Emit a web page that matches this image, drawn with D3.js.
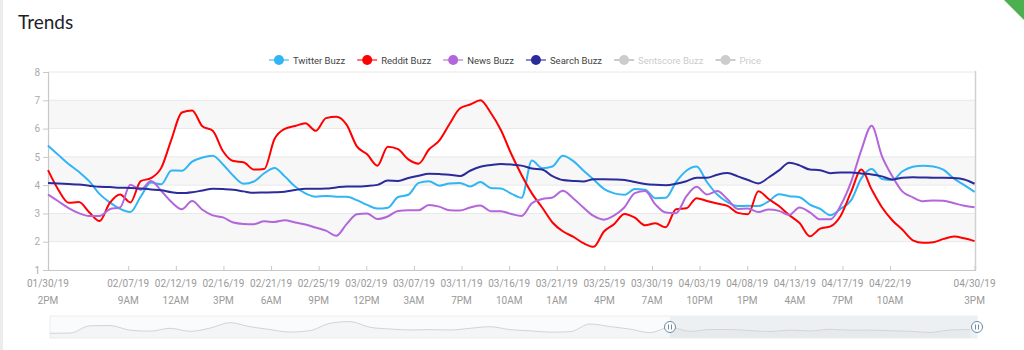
<!DOCTYPE html>
<html>
<head>
<meta charset="utf-8">
<script src="https://cdn.jsdelivr.net/npm/d3@7"></script>
<style>
  html, body { margin: 0; padding: 0; background: #fff; }
  svg { display: block; font-family: Roboto, "Noto Sans", sans-serif; }
</style>
</head>
<body>
<svg id="chart"></svg>
<script>
const width = 1024;
const height = 350;

// daily samples, first one at 01/30/19 2PM
const startTime = Date.UTC(2019, 0, 30, 14);
const endTime = Date.UTC(2019, 3, 30, 15);

const twitterBuzz = [5.40, 5.07, 4.75, 4.47, 4.14, 3.69, 3.39, 3.16, 3.05, 3.59,
  4.09, 4.03, 4.52, 4.51, 4.83, 4.98, 5.04, 4.73, 4.33, 4.05,
  4.13, 4.42, 4.61, 4.31, 3.95, 3.71, 3.59, 3.62, 3.59, 3.59,
  3.47, 3.30, 3.17, 3.20, 3.58, 3.66, 4.08, 4.14, 3.98, 4.06,
  4.08, 3.95, 4.11, 3.90, 3.88, 3.70, 3.55, 4.87, 4.60, 4.66,
  5.04, 4.86, 4.52, 4.20, 3.87, 3.71, 3.66, 3.86, 3.84, 3.54,
  3.55, 4.11, 4.51, 4.66, 4.11, 3.67, 3.40, 3.26, 3.27, 3.26,
  3.43, 3.68, 3.61, 3.57, 3.31, 3.16, 2.94, 3.17, 3.46, 4.24,
  4.57, 4.22, 4.18, 4.49, 4.65, 4.69, 4.66, 4.54, 4.23, 4.00, 3.76];

const redditBuzz = [4.53, 3.84, 3.38, 3.40, 3.04, 2.73, 3.37, 3.67, 3.39, 4.14,
  4.25, 4.61, 5.63, 6.57, 6.64, 6.08, 5.92, 5.20, 4.85, 4.81,
  4.55, 4.57, 5.63, 5.99, 6.09, 6.19, 5.92, 6.37, 6.42, 6.14,
  5.37, 5.09, 4.69, 5.36, 5.27, 4.91, 4.76, 5.26, 5.57, 6.16,
  6.71, 6.85, 7.00, 6.56, 5.94, 5.10, 4.36, 3.71, 3.21, 2.68,
  2.37, 2.18, 1.95, 1.82, 2.36, 2.63, 2.98, 2.85, 2.58, 2.65,
  2.51, 3.15, 3.18, 3.54, 3.44, 3.35, 3.27, 3.02, 2.97, 3.78,
  3.51, 3.26, 2.94, 2.66, 2.19, 2.46, 2.54, 2.92, 3.75, 4.55,
  3.85, 3.22, 2.76, 2.42, 2.05, 1.96, 1.98, 2.10, 2.18, 2.12, 2.02];

const newsBuzz = [3.67, 3.43, 3.19, 3.01, 2.91, 2.91, 3.15, 3.21, 4.01, 3.84,
  4.15, 3.80, 3.40, 3.15, 3.44, 3.13, 2.93, 2.86, 2.68, 2.63,
  2.62, 2.72, 2.70, 2.76, 2.68, 2.61, 2.50, 2.39, 2.21, 2.62,
  2.97, 3.00, 2.80, 2.89, 3.09, 3.11, 3.11, 3.30, 3.24, 3.11,
  3.10, 3.21, 3.28, 3.08, 3.08, 2.98, 2.91, 3.36, 3.51, 3.56,
  3.80, 3.54, 3.21, 2.91, 2.78, 2.93, 3.22, 3.72, 3.79, 3.32,
  3.03, 3.01, 3.60, 3.94, 3.67, 3.79, 3.50, 3.16, 3.17, 3.05,
  3.14, 3.09, 2.95, 3.21, 3.04, 2.79, 2.79, 3.29, 4.11, 5.24,
  6.10, 5.03, 4.32, 3.77, 3.57, 3.43, 3.46, 3.45, 3.36, 3.27, 3.22];

const searchBuzz = [4.08, 4.06, 4.04, 4.02, 3.98, 3.94, 3.93, 3.91, 3.90, 3.88,
  3.85, 3.82, 3.75, 3.72, 3.75, 3.81, 3.87, 3.86, 3.84, 3.78,
  3.73, 3.74, 3.75, 3.77, 3.83, 3.87, 3.87, 3.88, 3.92, 3.95,
  3.95, 3.97, 4.01, 4.16, 4.15, 4.25, 4.33, 4.40, 4.39, 4.37,
  4.32, 4.51, 4.65, 4.71, 4.75, 4.73, 4.69, 4.59, 4.55, 4.32,
  4.18, 4.15, 4.13, 4.21, 4.21, 4.20, 4.18, 4.11, 4.04, 4.01,
  4.00, 4.05, 4.14, 4.26, 4.26, 4.37, 4.43, 4.31, 4.18, 4.06,
  4.27, 4.52, 4.79, 4.70, 4.55, 4.53, 4.42, 4.45, 4.45, 4.41,
  4.38, 4.31, 4.20, 4.26, 4.28, 4.27, 4.26, 4.26, 4.25, 4.20, 4.05];

// navigator line (longer history, evenly spaced)
const navigatorValues = [4.7, 4.9, 12.2, 12.5, 7.8, 6.8, 9.7, 6.7, 9.9, 15.3,
  11.3, 8.5, 5.9, 7.3, 14.7, 16.4, 10.7, 9.0, 8.0, 8.4,
  8.0, 9.7, 11.3, 8.4, 7.2, 5.9, 6.3, 14.0, 11.4, 8.9,
  5.3, 10.7, 6.6, 8.5, 8.5, 7.4, 6.5, 7.9, 7.0, 8.7,
  7.8, 7.9, 7.3, 6.7, 5.6, 8.0, 8.5];

const yTicks = [1, 2, 3, 4, 5, 6, 7, 8];

const xTicks = [
  ["2019-01-30T14:00Z", "01/30/19", "2PM"],
  ["2019-02-07T09:00Z", "02/07/19", "9AM"],
  ["2019-02-12T00:00Z", "02/12/19", "12AM"],
  ["2019-02-16T15:00Z", "02/16/19", "3PM"],
  ["2019-02-21T06:00Z", "02/21/19", "6AM"],
  ["2019-02-25T21:00Z", "02/25/19", "9PM"],
  ["2019-03-02T12:00Z", "03/02/19", "12PM"],
  ["2019-03-07T03:00Z", "03/07/19", "3AM"],
  ["2019-03-11T18:00Z", "03/11/19", "7PM"],
  ["2019-03-16T09:00Z", "03/16/19", "10AM"],
  ["2019-03-21T00:00Z", "03/21/19", "1AM"],
  ["2019-03-25T15:00Z", "03/25/19", "4PM"],
  ["2019-03-30T06:00Z", "03/30/19", "7AM"],
  ["2019-04-03T21:00Z", "04/03/19", "10PM"],
  ["2019-04-08T12:00Z", "04/08/19", "1PM"],
  ["2019-04-13T03:00Z", "04/13/19", "4AM"],
  ["2019-04-17T18:00Z", "04/17/19", "7PM"],
  ["2019-04-22T09:00Z", "04/22/19", "10AM"],
  ["2019-04-30T14:00Z", "04/30/19", "3PM"]
];

const seriesNames = ["Twitter Buzz", "Reddit Buzz", "News Buzz", "Search Buzz", "Sentscore Buzz", "Price"];
const seriesColors = ["#30b5f5", "#ff0000", "#b366d9", "#2b2b9c", "#cccccc", "#cccccc"];
const seriesVisible = [true, true, true, true, false, false];
const seriesValues = [twitterBuzz, redditBuzz, newsBuzz, searchBuzz];

const svg = d3.select("#chart")
  .attr("width", width)
  .attr("height", height);

// card edge + corner badge
svg.append("rect").attr("x", 0).attr("y", 0).attr("width", 3).attr("height", height).attr("fill", "#ececec");
svg.append("path").attr("d", "M1004,0 L1024,0 L1024,20 Z").attr("fill", "#4caf50");

svg.append("text")
  .attr("x", 18).attr("y", 29)
  .attr("font-family", "Lato, 'Open Sans', sans-serif")
  .attr("font-size", 19)
  .attr("fill", "#1e1e2a")
  .text("Trends");

const x = d3.scaleUtc()
  .domain([startTime, endTime])
  .range([48, 975]);

const y = d3.scaleLinear()
  .domain([1, 8])
  .range([270, 72]);

const dates = d3.range(twitterBuzz.length).map(i => d3.utcDay.offset(new Date(startTime), i));

// alternating bands
const bands = svg.append("g");
[[6, 7], [4, 5], [2, 3]].forEach(([a, b]) => {
  bands.append("rect")
    .attr("x", x.range()[0]).attr("width", x.range()[1] - x.range()[0])
    .attr("y", y(b)).attr("height", y(a) - y(b))
    .attr("fill", "#f7f7f7");
});

// grid lines
svg.append("g")
  .selectAll("line")
  .data(yTicks.slice(1))
  .enter().append("line")
  .attr("x1", 48).attr("x2", 975)
  .attr("y1", d => y(d)).attr("y2", d => y(d))
  .attr("stroke", "#e8e8e8");

// y axis
const yAxis = svg.append("g")
  .attr("transform", "translate(48,0)")
  .call(d3.axisLeft(y).tickValues(yTicks).tickFormat(d3.format("d")).tickSize(5).tickPadding(3));
yAxis.select(".domain").attr("stroke", "#c8c8c8").attr("stroke-width", 1.2);
yAxis.selectAll(".tick line").attr("stroke", "#c8c8c8");
yAxis.selectAll(".tick text").attr("fill", "#aaa").attr("font-size", 10).attr("font-family", "Roboto, sans-serif");

// x axis
const xAxis = svg.append("g")
  .attr("transform", "translate(0,270)")
  .call(d3.axisBottom(x).tickValues(xTicks.map(d => new Date(d[0]))).tickSize(-4).tickFormat(""));
xAxis.select(".domain").attr("stroke", "#c8c8c8").attr("stroke-width", 1.2);
xAxis.selectAll(".tick line").attr("stroke", "#c8c8c8");

const xLabels = svg.append("g")
  .selectAll("text")
  .data(xTicks)
  .enter().append("text")
  .attr("x", d => x(new Date(d[0])))
  .attr("text-anchor", "middle")
  .attr("font-size", 10)
  .attr("fill", "#999");
xLabels.append("tspan").attr("y", 287).text(d => d[1]);
xLabels.append("tspan").attr("y", 304).attr("x", d => x(new Date(d[0]))).text(d => d[2]);

// right border
svg.append("line")
  .attr("x1", 975.5).attr("x2", 975.5).attr("y1", 71).attr("y2", 270)
  .attr("stroke", "#d0d0d0").attr("stroke-width", 1.5);

// lines
const line = d3.line()
  .x((d, i) => x(dates[i]))
  .y(d => y(d))
  .curve(d3.curveMonotoneX);

svg.append("g")
  .selectAll("path")
  .data(seriesValues)
  .enter().append("path")
  .attr("d", d => line(d))
  .attr("fill", "none")
  .attr("stroke", (d, i) => seriesColors[i])
  .attr("stroke-width", 2)
  .attr("stroke-linejoin", "round");

// legend
const legend = svg.append("g").attr("transform", "translate(0,60)");
let legendX = 0;
const items = legend.selectAll("g")
  .data(seriesNames)
  .enter().append("g");
items.append("line")
  .attr("x1", 0).attr("x2", 20)
  .attr("stroke", (d, i) => seriesColors[i])
  .attr("stroke-opacity", (d, i) => seriesVisible[i] ? 0.55 : 1)
  .attr("stroke-width", 2);
items.append("circle")
  .attr("cx", 10).attr("r", 5)
  .attr("fill", (d, i) => seriesColors[i]);
items.append("text")
  .attr("x", 24).attr("y", 3.5)
  .attr("font-size", 9.5)
  .attr("fill", (d, i) => seriesVisible[i] ? "#444" : "#ccc")
  .text(d => d);
items.each(function () {
  const w = this.querySelector("text").getComputedTextLength();
  d3.select(this).attr("transform", `translate(${legendX},0)`);
  legendX += 24 + w + 12;
});
legend.attr("transform", `translate(${515 - (legendX - 12) / 2},60)`);

// navigator
const navX = d3.scaleLinear().domain([0, navigatorValues.length - 1]).range([50, 970]);
const navY = d3.scaleLinear().domain([0, 22]).range([338, 316]);
const nav = svg.append("g");
nav.append("rect")
  .attr("x", 50).attr("y", 316).attr("width", 927).attr("height", 22)
  .attr("fill", "#fafbfc").attr("stroke", "#eeeeee");
nav.append("rect")
  .attr("x", 670).attr("y", 316).attr("width", 307).attr("height", 22)
  .attr("fill", "#edf0f3");
nav.append("path")
  .attr("d", d3.area().x((d, i) => navX(i)).y0(338).y1(d => navY(d)).curve(d3.curveMonotoneX)(navigatorValues))
  .attr("fill", "rgba(0,0,0,0.025)");
nav.append("path")
  .attr("d", d3.line().x((d, i) => navX(i)).y(d => navY(d)).curve(d3.curveMonotoneX)(navigatorValues))
  .attr("fill", "none")
  .attr("stroke", "#d4d4d4");

[670, 977].forEach(hx => {
  const h = nav.append("g").attr("transform", `translate(${hx},327)`);
  h.append("circle").attr("r", 5.5).attr("fill", "#fff").attr("stroke", "#6d8aa6");
  h.append("line").attr("x1", -1.5).attr("x2", -1.5).attr("y1", -2.5).attr("y2", 2.5).attr("stroke", "#6d8aa6");
  h.append("line").attr("x1", 1.5).attr("x2", 1.5).attr("y1", -2.5).attr("y2", 2.5).attr("stroke", "#6d8aa6");
});
</script>
</body>
</html>
